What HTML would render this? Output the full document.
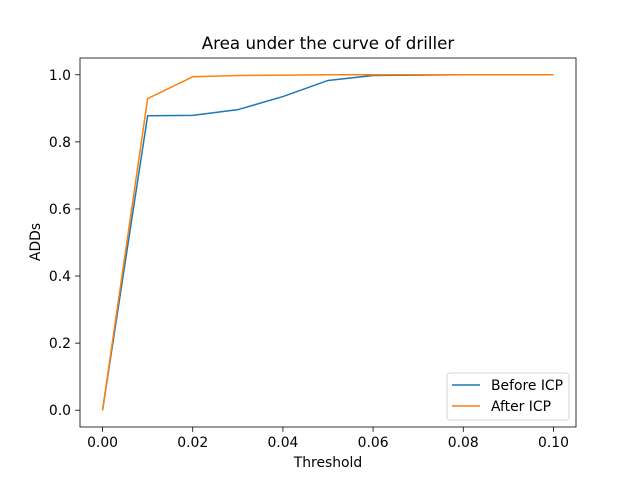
<!DOCTYPE html>
<html><head><meta charset="utf-8"><style>body{margin:0;background:#fff}svg{display:block;font-family:"DejaVu Sans","Liberation Sans",sans-serif}</style></head>
<body>
<svg id="chart" width="640" height="480"></svg>
<script>
const xValues=[0,0.01,0.02,0.03,0.04,0.05,0.06,0.07,0.08,0.09,0.10];
const beforeICP=[0,0.878,0.879,0.896,0.935,0.983,0.998,0.999,1,1,1];
const afterICP=[0,0.929,0.994,0.998,0.999,1,1,1,1,1,1];
const xTicks=[0,0.02,0.04,0.06,0.08,0.10];
const xTickLabels=["0.00","0.02","0.04","0.06","0.08","0.10"];
const yTicks=[0,0.2,0.4,0.6,0.8,1.0];
const yTickLabels=["0.0","0.2","0.4","0.6","0.8","1.0"];
const L=80,R=576,T=58,B=427;
const sx=v=>L+(v+0.005)/0.11*(R-L);
const sy=v=>B-(v+0.05)/1.1*(B-T);
const svg=document.getElementById('chart');const NS='http://www.w3.org/2000/svg';
function mk(t,a,p){const e=document.createElementNS(NS,t);for(const k in a)e.setAttribute(k,a[k]);(p||svg).appendChild(e);return e;}
let e;
e=mk('rect',{x:L,y:T,width:R-L,height:B-T,fill:'none',stroke:'#000','stroke-width':0.8});


xTicks.forEach((v,i)=>{
 e=mk('line',{x1:sx(v),x2:sx(v),y1:B,y2:B+4.9,stroke:'#000','stroke-width':0.8});
 
 
 e=mk('text',{x:sx(v),y:B+20,'font-size':13.9,'text-anchor':'middle'});e.textContent=xTickLabels[i];
 
 
});
yTicks.forEach((v,i)=>{
 e=mk('line',{x1:L-4.9,x2:L,y1:sy(v),y2:sy(v),stroke:'#000','stroke-width':0.8});
 
 
 e=mk('text',{x:L-9,y:sy(v)+5,'font-size':13.9,'text-anchor':'end'});e.textContent=yTickLabels[i];
 
 
});
function line(vals,color,name){
 e=mk('polyline',{points:vals.map((v,i)=>sx(xValues[i])+','+sy(v)).join(' '),fill:'none',stroke:color,'stroke-width':1.5});
 
 
}
line(beforeICP,'#1f77b4','before-icp-line');
line(afterICP,'#ff7f0e','after-icp-line');
e=mk('text',{x:328,y:49,'font-size':16.7,'text-anchor':'middle'});e.textContent='Area under the curve of driller';


e=mk('text',{x:328,y:467,'font-size':13.9,'text-anchor':'middle'});e.textContent='Threshold';


e=mk('text',{x:0,y:0,'font-size':13.9,'text-anchor':'middle',transform:'translate(40,242) rotate(-90)'});e.textContent='ADDs';


const lg=mk('g',{});


mk('rect',{x:447,y:373,width:122,height:47,rx:3,fill:'#fff',stroke:'#ccc','stroke-width':0.8},lg);
[['Before ICP','#1f77b4',385],['After ICP','#ff7f0e',406]].forEach(([t,c,y])=>{
 e=mk('line',{x1:452,x2:480,y1:y,y2:y,stroke:c,'stroke-width':1.5},lg);
 
 
 e=mk('text',{x:491,y:y+5,'font-size':13.9},lg);e.textContent=t;
 
 
});
</script>
</body></html>
